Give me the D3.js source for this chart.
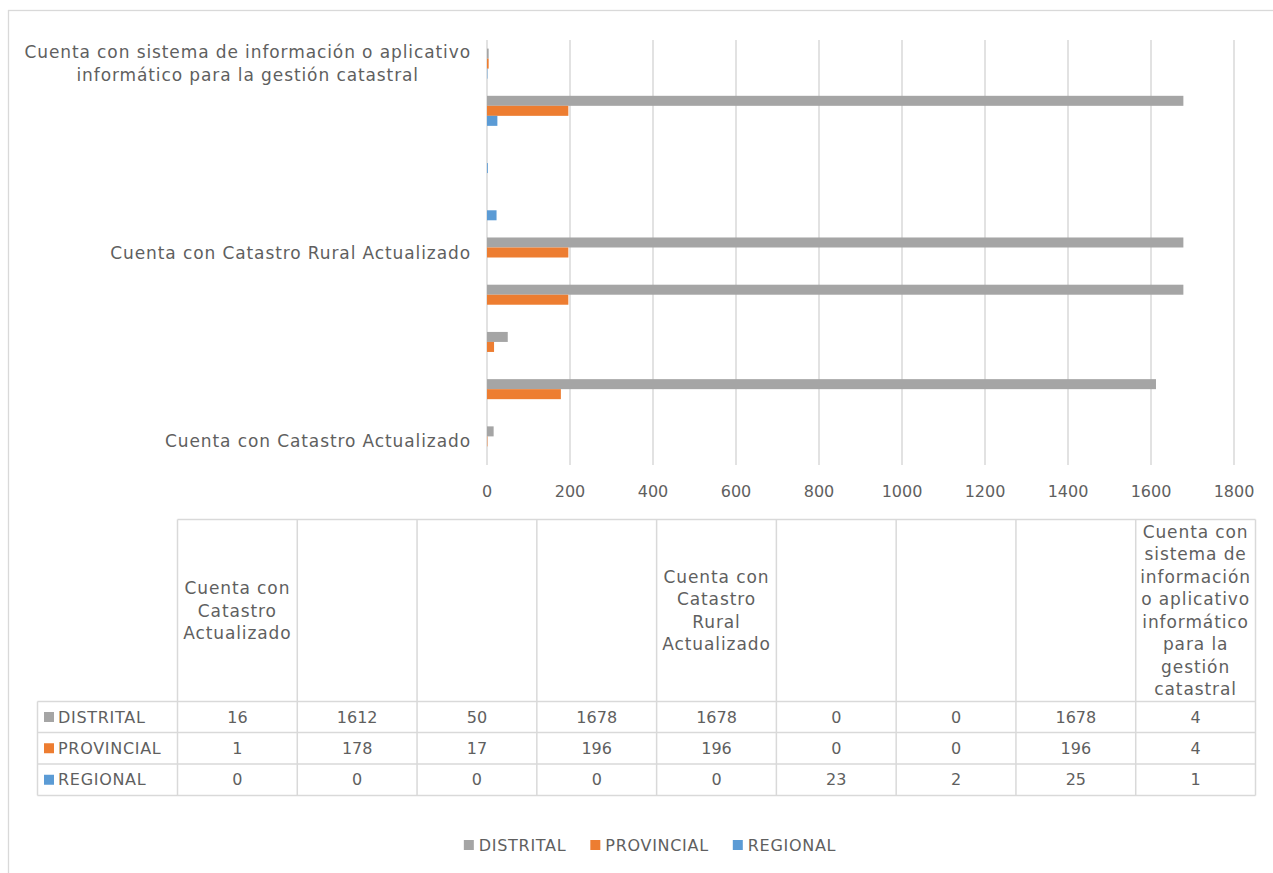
<!DOCTYPE html>
<html>
<head>
<meta charset="utf-8">
<script src="https://cdn.jsdelivr.net/npm/d3@7"></script>
<style>
body{margin:0;background:#fff;}
text{font-family:"DejaVu Sans",sans-serif;fill:#5f5f5f;}
</style>
</head>
<body>
<svg id="chart" width="1273" height="873"></svg>
<script>
// categories from bottom of the chart to the top (= table from left to right)
var categories = [
	"Cuenta con Catastro Actualizado", "", "", "",
	"Cuenta con Catastro Rural Actualizado", "", "", "",
	"Cuenta con sistema de información o aplicativo informático para la gestión catastral"
];
var distrital  = [16, 1612, 50, 1678, 1678, 0, 0, 1678, 4];
var provincial = [1, 178, 17, 196, 196, 0, 0, 196, 4];
var regional   = [0, 0, 0, 0, 0, 23, 2, 25, 1];
var seriesNames  = ["DISTRITAL", "PROVINCIAL", "REGIONAL"];
var seriesColors = ["#A5A5A5", "#ED7D31", "#5B9BD5"];
var xTicks = [0, 200, 400, 600, 800, 1000, 1200, 1400, 1600, 1800];

var seriesValues = [distrital, provincial, regional];

var svg = d3.select("#chart");

// outer chart border
svg.append("rect")
	.attr("x", 8.5).attr("y", 10.5).attr("width", 1300).attr("height", 900)
	.attr("style", "fill:none;stroke:#D9D9D9;stroke-width:1.3");

// --------------------------------
// scales
// --------------------------------
var x = d3.scaleLinear().domain([0, 1800]).range([487, 1234]);
var y = d3.scaleBand()
	.domain(d3.range(categories.length))
	.range([465, 40])
	.paddingInner(0.364)
	.paddingOuter(0.182);
var ySub = d3.scaleBand().domain(seriesNames).range([0, y.bandwidth()]);

var upperStyle = "font-size:16px;letter-spacing:0.7px;dominant-baseline:central";

// split a label into lines no wider than maxW
function wrapLines(sel, str, maxW){
	var words = str.split(" "), lines = [], line = [];
	var t = sel.append("tspan");
	words.forEach(function(w){
		line.push(w);
		t.text(line.join(" "));
		if (t.node().getComputedTextLength() > maxW && line.length > 1){
			line.pop();
			lines.push(line.join(" "));
			line = [w];
		}
	});
	lines.push(line.join(" "));
	t.remove();
	return lines;
}

// draw a multiline centered label block
function drawBlock(g, str, maxW, cx, cy, lineH, anchorRight){
	var txt = g.append("text")
		.attr("style", "font-size:17px;letter-spacing:0.9px;text-anchor:middle;dominant-baseline:central");
	var lines = wrapLines(txt, str, maxW);
	var tsp = lines.map(function(l, i){
		return txt.append("tspan").attr("y", cy + (i - (lines.length - 1) / 2) * lineH).text(l);
	});
	var blockW = d3.max(tsp, function(t){ return t.node().getComputedTextLength(); });
	var mid = anchorRight ? cx - blockW / 2 : cx;
	tsp.forEach(function(t){ t.attr("x", mid); });
}

// --------------------------------
// gridlines and x ticks
// --------------------------------
svg.append("g").selectAll("line").data(xTicks).join("line")
	.attr("x1", function(d){ return x(d); }).attr("x2", function(d){ return x(d); })
	.attr("y1", 40).attr("y2", 465)
	.attr("style", "stroke:#D9D9D9;stroke-width:1.5");

svg.append("g").selectAll("text").data(xTicks).join("text")
	.attr("x", function(d){ return x(d); })
	.attr("y", 491)
	.attr("style", "font-size:16px;text-anchor:middle;dominant-baseline:central")
	.text(function(d){ return d; });

// --------------------------------
// bars
// --------------------------------
var gBars = svg.append("g");
seriesNames.forEach(function(name, s){
	gBars.append("g").selectAll("rect").data(seriesValues[s]).join("rect")
		.attr("x", x(0))
		.attr("y", function(d, i){ return y(i) + ySub(name); })
		.attr("width", function(d){ return x(d) - x(0); })
		.attr("height", ySub.bandwidth())
		.attr("fill", seriesColors[s]);
});

// category labels
var gCat = svg.append("g");
categories.forEach(function(c, i){
	if (c) drawBlock(gCat, c, 450, 471, y(i) + y.bandwidth() / 2, 23, true);
});

// --------------------------------
// data table
// --------------------------------
var col = d3.scaleBand().domain(d3.range(categories.length)).range([177.5, 1255.5]);
var rowY = [701.5, 732.5, 764, 795.5];
var tableTop = 519.5;
var gT = svg.append("g");
var lineStyle = "stroke:#D9D9D9;stroke-width:1.5";

gT.append("line").attr("x1", 177.5).attr("x2", 1255.5).attr("y1", tableTop).attr("y2", tableTop).attr("style", lineStyle);
rowY.forEach(function(ry){
	gT.append("line").attr("x1", 37.5).attr("x2", 1255.5).attr("y1", ry).attr("y2", ry).attr("style", lineStyle);
});
gT.append("line").attr("x1", 37.5).attr("x2", 37.5).attr("y1", rowY[0]).attr("y2", rowY[3]).attr("style", lineStyle);
d3.range(categories.length + 1).forEach(function(k){
	var cx = 177.5 + k * col.step();
	gT.append("line").attr("x1", cx).attr("x2", cx).attr("y1", tableTop).attr("y2", rowY[3]).attr("style", lineStyle);
});

// header cells
categories.forEach(function(c, i){
	if (c) drawBlock(gT, c, 114, col(i) + col.bandwidth() / 2, (tableTop + rowY[0]) / 2, 22.5, false);
});

// rows
seriesNames.forEach(function(name, s){
	var cy = (rowY[s] + rowY[s + 1]) / 2;
	gT.append("rect").attr("x", 44).attr("y", cy - 5).attr("width", 10).attr("height", 10).attr("fill", seriesColors[s]);
	gT.append("text").attr("x", 58).attr("y", cy)
		.attr("style", upperStyle).text(name);
	gT.append("g").selectAll("text").data(seriesValues[s]).join("text")
		.attr("x", function(d, i){ return col(i) + col.bandwidth() / 2; })
		.attr("y", cy)
		.attr("style", "font-size:16px;text-anchor:middle;dominant-baseline:central")
		.text(function(d){ return d; });
});

// --------------------------------
// legend
// --------------------------------
var gL = svg.append("g");
var items = seriesNames.map(function(name, s){
	var g = gL.append("g");
	g.append("rect").attr("x", 0).attr("y", -5).attr("width", 10).attr("height", 10).attr("fill", seriesColors[s]);
	var t = g.append("text").attr("x", 15).attr("y", 0)
		.attr("style", upperStyle).text(name);
	return {g: g, w: 15 + t.node().getComputedTextLength()};
});
var totalW = d3.sum(items, function(d){ return d.w; }) + 24 * (items.length - 1);
var lx = 650 - totalW / 2;
items.forEach(function(it){
	it.g.attr("transform", "translate(" + lx + ",845)");
	lx += it.w + 24;
});
</script>
</body>
</html>
